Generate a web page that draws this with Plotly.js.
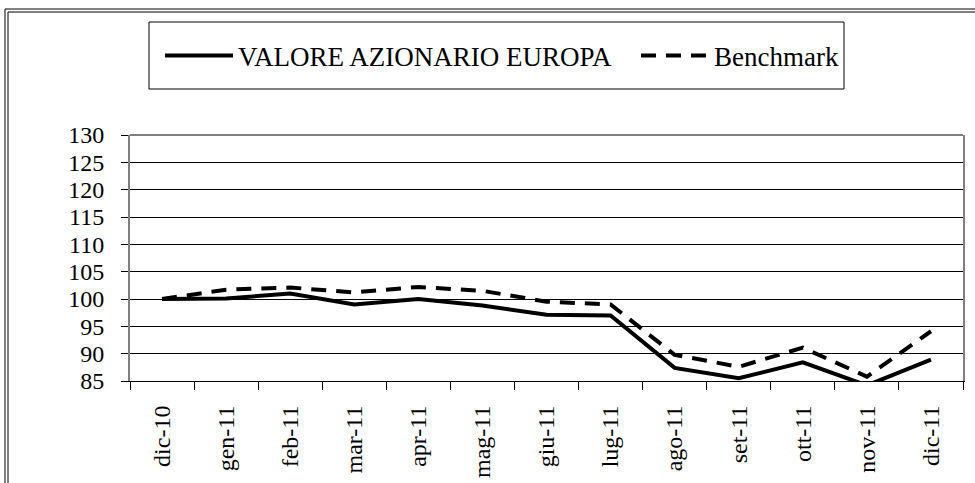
<!DOCTYPE html>
<html>
<head>
<meta charset="utf-8">
<script src="https://cdn.plot.ly/plotly-3.0.1.min.js"></script>
<style>
html,body{margin:0;padding:0;background:#fff;}
#chart{width:975px;height:483px;}
</style>
</head>
<body>
<div id="chart"></div>
<script>
const categories = ["dic-10","gen-11","feb-11","mar-11","apr-11","mag-11","giu-11","lug-11","ago-11","set-11","ott-11","nov-11","dic-11"];
const fundValues = [100, 100.1, 101, 99, 100, 98.8, 97.1, 97, 87.4, 85.5, 88.4, 84.2, 88.9];
const benchmarkValues = [100, 101.7, 102.1, 101.2, 102.2, 101.5, 99.5, 99, 89.8, 87.6, 91.1, 85.8, 94.1];
const seriesNames = ["VALORE AZIONARIO EUROPA", "Benchmark"];
const yTicks = [85, 90, 95, 100, 105, 110, 115, 120, 125, 130];

const serif = "Liberation Serif";

const traces = [
  {x: categories, y: fundValues, name: seriesNames[0], type: "scatter", mode: "lines",
   line: {color: "#000", width: 4}, legend: "legend"},
  {x: categories, y: benchmarkValues, name: seriesNames[1], type: "scatter", mode: "lines",
   line: {color: "#000", width: 4, dash: "15px,10px"}, legend: "legend2"}
];

const legendBase = {
  orientation: "h", xref: "container", yref: "container",
  xanchor: "left", y: 1 - 56/483, yanchor: "middle",
  font: {family: serif, size: 27, color: "#000"},
  bgcolor: "rgba(0,0,0,0)", borderwidth: 0, itemwidth: 68
};

const layout = {
  width: 975, height: 483,
  margin: {l: 130, r: 12, t: 135, b: 102},
  paper_bgcolor: "#fff", plot_bgcolor: "#fff",
  font: {family: serif, color: "#000", size: 24},
  showlegend: true,
  legend: Object.assign({}, legendBase, {x: 160/975}),
  legend2: Object.assign({}, legendBase, {x: 636/975}),
  xaxis: {
    type: "category", tickson: "boundaries", ticks: "outside", ticklen: 8, tickcolor: "#000",
    tickangle: -90, showgrid: false, showline: true, linecolor: "#000", linewidth: 1,
    tickfont: {family: serif, size: 24, color: "#000"}, ticklabelstandoff: 14,
    range: [-0.5, categories.length - 0.5], fixedrange: true
  },
  yaxis: {
    range: [85, 130], tickvals: yTicks, ticks: "outside", ticklen: 7, tickcolor: "#000",
    showgrid: true, gridcolor: "#000", gridwidth: 1, zeroline: false,
    showline: true, linecolor: "#808080", linewidth: 2, mirror: true,
    tickfont: {family: serif, size: 24, color: "#000"}, ticklabelstandoff: 12,
    fixedrange: true
  },
  shapes: [
    {type: "line", xref: "paper", yref: "paper", x0: 0, x1: 1, y0: 1, y1: 1,
     line: {color: "#808080", width: 2}, layer: "above"},
    {type: "rect", xref: "paper", yref: "paper",
     x0: (149-130)/833, x1: (844-130)/833, y0: (483-102-89)/246, y1: (483-102-22)/246,
     line: {color: "#000", width: 1}, fillcolor: "rgba(0,0,0,0)"},
    {type: "rect", xref: "paper", yref: "paper",
     x0: (5-130)/833, x1: (1100-130)/833, y0: (483-102-600)/246, y1: (483-102-9)/246,
     line: {color: "#000", width: 1}, fillcolor: "rgba(0,0,0,0)"},
    {type: "rect", xref: "paper", yref: "paper",
     x0: (8-130)/833, x1: (1100-130)/833, y0: (483-102-600)/246, y1: (483-102-12)/246,
     line: {color: "#000", width: 1}, fillcolor: "rgba(0,0,0,0)"}
  ]
};

Plotly.newPlot("chart", traces, layout, {staticPlot: true, displayModeBar: false});
</script>
</body>
</html>
